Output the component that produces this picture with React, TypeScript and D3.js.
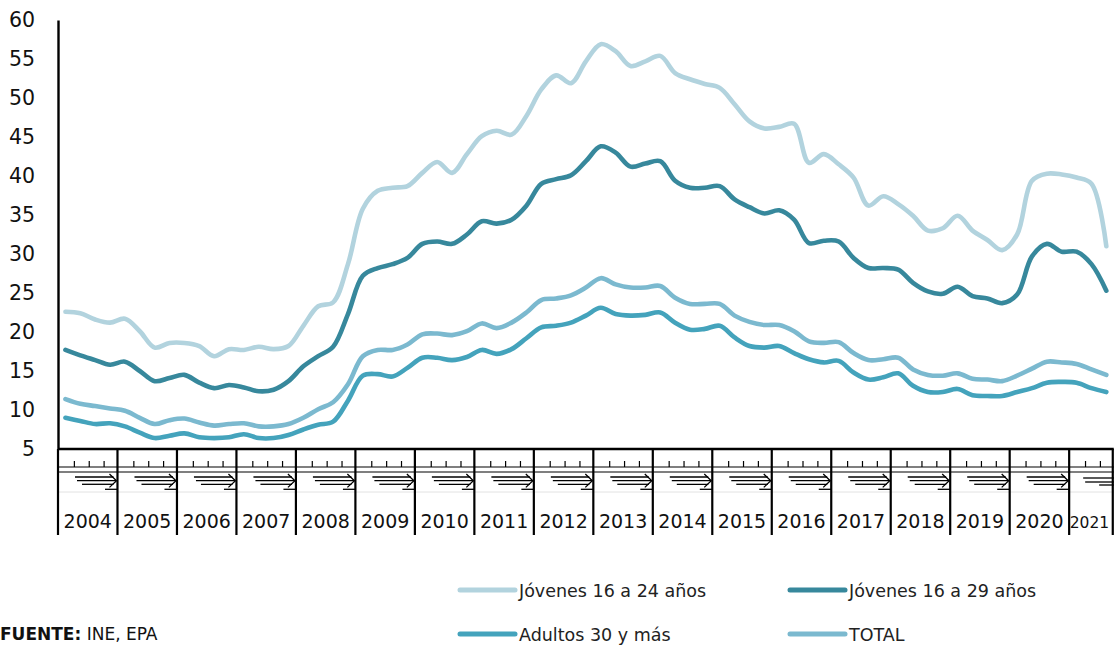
import React, { useEffect, useRef } from 'react'
import * as d3 from 'd3'

// years on the axis (2021 only has three quarters)
const years = [2004, 2005, 2006, 2007, 2008, 2009, 2010, 2011, 2012, 2013, 2014, 2015, 2016, 2017, 2018, 2019, 2020, 2021]
const quarterNames = ['T1', 'T2', 'T3', 'T4']
const quartersLastYear = 3

const yTicks = [5, 10, 15, 20, 25, 30, 35, 40, 45, 50, 55, 60]

const jovenes1624 = [
  22.6, 22.4, 21.6, 21.2, 21.7, 20.1, 18.0, 18.6, 18.6, 18.2, 16.9, 17.8, 17.7, 18.1, 17.8, 18.2,
  20.8, 23.3, 23.8, 28.7, 35.8, 38.1, 38.5, 38.7, 40.4, 41.8, 40.4, 42.8, 45.1, 45.8, 45.3, 47.7,
  51.1, 52.9, 51.9, 54.7, 56.9, 56.0, 54.1, 54.7, 55.4, 53.2, 52.4, 51.8, 51.3, 49.2, 47.0, 46.1,
  46.3, 46.7, 41.7, 42.8, 41.5, 39.8, 36.2, 37.4, 36.4, 34.9, 33.0, 33.3, 34.9, 33.0, 31.8, 30.5,
  32.5, 39.4, 40.3, 40.2, 39.8, 39.0, 31.0
]
const jovenes1629 = [
  17.7, 17.0, 16.4, 15.8, 16.2, 15.0, 13.7, 14.1, 14.5, 13.5, 12.8, 13.2, 12.9, 12.4, 12.6, 13.7,
  15.6, 16.9, 18.1, 22.3, 27.2, 28.2, 28.7, 29.5, 31.3, 31.6, 31.3, 32.5, 34.2, 33.9, 34.4, 36.2,
  39.0, 39.6, 40.1, 41.9, 43.8, 43.0, 41.2, 41.6, 41.9, 39.4, 38.5, 38.5, 38.7, 37.0, 36.0, 35.2,
  35.6, 34.4, 31.4, 31.7, 31.6, 29.5, 28.2, 28.2, 28.0, 26.3, 25.2, 24.9, 25.8, 24.6, 24.3, 23.7,
  24.8, 29.7, 31.3, 30.3, 30.3, 28.7, 25.3
]
const adultos30 = [
  9.0, 8.6, 8.2, 8.3, 7.9, 7.1, 6.4, 6.7, 7.0, 6.5, 6.4, 6.5, 6.9, 6.4, 6.4, 6.8,
  7.5, 8.1, 8.5, 11.2, 14.4, 14.6, 14.3, 15.4, 16.7, 16.7, 16.4, 16.8, 17.7, 17.2, 17.8, 19.2,
  20.6, 20.8, 21.2, 22.1, 23.1, 22.3, 22.1, 22.2, 22.5, 21.2, 20.3, 20.4, 20.8, 19.3, 18.2, 18.0,
  18.2, 17.3, 16.5, 16.1, 16.3, 14.8, 13.9, 14.2, 14.7, 13.1, 12.3, 12.3, 12.7, 11.9, 11.8, 11.8,
  12.3, 12.8, 13.5, 13.6, 13.5, 12.8, 12.3
]
const total = [
  11.4, 10.8, 10.5, 10.2, 9.9, 9.0, 8.2, 8.7, 8.9, 8.4, 8.0, 8.2, 8.3, 7.9, 7.9, 8.2,
  9.0, 10.1, 11.0, 13.3, 16.9, 17.7, 17.7, 18.4, 19.7, 19.8, 19.6, 20.1, 21.1, 20.5, 21.2, 22.5,
  24.1, 24.3, 24.7, 25.7, 26.9, 26.1, 25.7, 25.7, 25.9, 24.4, 23.6, 23.6, 23.6, 22.1, 21.3, 20.9,
  20.9, 20.1, 18.8, 18.6, 18.7, 17.3, 16.4, 16.5, 16.7, 15.2, 14.5, 14.4, 14.7, 14.0, 13.9, 13.7,
  14.4, 15.3, 16.2, 16.1, 15.9, 15.2, 14.5
]

const series = [
  { name: 'Jóvenes 16 a 24 años', values: jovenes1624, color: '#b2d3de' },
  { name: 'Jóvenes 16 a 29 años', values: jovenes1629, color: '#37889c' },
  { name: 'Adultos 30 y más', values: adultos30, color: '#44a3bc' },
  { name: 'TOTAL', values: total, color: '#7bb9cf' },
]

const FONT = '"DejaVu Sans", sans-serif'

function Chart() {
  const node = useRef<SVGSVGElement>(null)

  useEffect(() => {
    const width = 1114
    const height = 645
    const left = 58
    const qw = 14.87
    const top = 20
    const bottom = 449

    const yearQuarters = years.map(y => quarterNames.slice(0, y === 2021 ? quartersLastYear : 4))
    const categories = years.flatMap((y, i) => yearQuarters[i].map(q => y + ' ' + q))

    const x = d3.scaleBand().domain(categories).range([left, left + categories.length * qw])
    const y = d3.scaleLinear().domain([5, 60]).range([bottom, top])
    const cx = (i: number) => (x(categories[i]) as number) + x.bandwidth() / 2

    const svg = d3.select(node.current)
    svg.selectAll('*').remove()
    svg.attr('width', width).attr('height', height)

    // faint line under the quarter labels
    svg.append('line')
      .attr('x1', left).attr('x2', width)
      .attr('y1', 492).attr('y2', 492)
      .attr('stroke', '#e2e2e2').attr('stroke-width', 1)

    // y axis
    const gY = svg.append('g')
      .attr('transform', `translate(${left},0)`)
      .call(d3.axisLeft(y).tickValues(yTicks).tickSize(0).tickPadding(23))
    gY.select('.domain').attr('stroke', '#000').attr('stroke-width', 2.4)
    gY.selectAll('text')
      .attr('font-family', FONT).attr('font-size', 20.5).attr('fill', '#111')

    // year bands on x axis
    const xEnd = left + categories.length * qw
    svg.append('line')
      .attr('x1', left).attr('x2', xEnd)
      .attr('y1', bottom).attr('y2', bottom)
      .attr('stroke', '#000').attr('stroke-width', 2.4)

    const gX = svg.append('g')
    years.forEach((yr, i) => {
      const nq = yearQuarters[i].length
      const x0 = x(yr + ' ' + yearQuarters[i][0]) as number
      const x1 = x0 + nq * x.bandwidth()
      const last = i === years.length - 1
      const g = gX.append('g').attr('stroke', '#000').attr('fill', 'none')
      g.append('line').attr('x1', x0).attr('x2', x0).attr('y1', bottom).attr('y2', 535).attr('stroke-width', 2.2)
      if (last) {
        g.append('line').attr('x1', x1 - 1).attr('x2', x1 - 1).attr('y1', bottom).attr('y2', 535).attr('stroke-width', 2.2)
      }
      // garbled quarter label marks
      g.append('line').attr('x1', x0).attr('x2', x1).attr('y1', 467).attr('y2', 467).attr('stroke-width', 1.2)
      g.append('line').attr('x1', x0).attr('x2', x1).attr('y1', 472).attr('y2', 472).attr('stroke-width', 1.2)
      for (let k = 1; k < nq; k++) {
        const tx = x0 + k * x.bandwidth() + 1.5
        g.append('line').attr('x1', tx).attr('x2', tx).attr('y1', 461).attr('y2', 467).attr('stroke-width', 1.2)
      }
      if (nq === 4) {
        g.append('line').attr('x1', x0 + 17).attr('x2', x1 - 4).attr('y1', 477).attr('y2', 477).attr('stroke-width', 1.3)
        g.append('line').attr('x1', x0 + 19).attr('x2', x1 - 1.5).attr('y1', 480.7).attr('y2', 480.7).attr('stroke-width', 1.3)
        g.append('line').attr('x1', x0 + 24).attr('x2', x1 - 4).attr('y1', 484.3).attr('y2', 484.3).attr('stroke-width', 1.3)
        g.append('path').attr('d', `M${x1 - 8},474 L${x1 - 1},480.7 L${x1 - 8},487.4`).attr('stroke-width', 1.3)
        g.append('line').attr('x1', x0 + 47).attr('x2', x1).attr('y1', 489.3).attr('y2', 489.3).attr('stroke-width', 1.3)
      } else {
        g.append('line').attr('x1', x0 + 14).attr('x2', x1).attr('y1', 478).attr('y2', 478).attr('stroke-width', 1.3)
        g.append('line').attr('x1', x0 + 16).attr('x2', x1).attr('y1', 482).attr('y2', 482).attr('stroke-width', 1.3)
        g.append('line').attr('x1', x0 + 30).attr('x2', x1).attr('y1', 485).attr('y2', 485).attr('stroke-width', 1.3)
      }
      gX.append('text')
        .attr('x', (x0 + x1) / 2 - (last ? 2 : 0)).attr('y', 528)
        .attr('text-anchor', 'middle')
        .attr('font-family', FONT).attr('fill', '#111')
        .attr('font-size', last ? 15.5 : 19)
        .text(yr)
    })

    // lines
    const line = d3.line<number>()
      .x((d, i) => cx(i))
      .y(d => y(d))
      .curve(d3.curveCatmullRom.alpha(0.5))

    series.forEach(s => {
      svg.append('path')
        .datum(s.values)
        .attr('d', line)
        .attr('fill', 'none')
        .attr('stroke', s.color)
        .attr('stroke-width', 4.6)
        .attr('stroke-linejoin', 'round')
        .attr('stroke-linecap', 'round')
    })

    // legend
    const legendPos = [[460, 590], [790, 590], [460, 634], [790, 634]]
    series.forEach((s, i) => {
      const [lx, ly] = legendPos[i]
      svg.append('line')
        .attr('x1', lx).attr('x2', lx + 55)
        .attr('y1', ly).attr('y2', ly)
        .attr('stroke', s.color).attr('stroke-width', 5).attr('stroke-linecap', 'round')
      svg.append('text')
        .attr('x', lx + 59).attr('y', ly + 6.5)
        .attr('font-family', FONT).attr('font-size', 17.5).attr('fill', '#222')
        .text(s.name)
    })

    // source
    const src = svg.append('text')
      .attr('x', 0).attr('y', 640)
      .attr('font-family', FONT).attr('font-size', 17).attr('fill', '#111')
    src.append('tspan').attr('font-weight', 'bold').text('FUENTE:')
    src.append('tspan').text(' INE, EPA')
  }, [])

  return <svg ref={node} style={{ position: 'absolute', left: 0, top: 0, display: 'block' }}></svg>
}

export default function App() {
  return <Chart />
}
